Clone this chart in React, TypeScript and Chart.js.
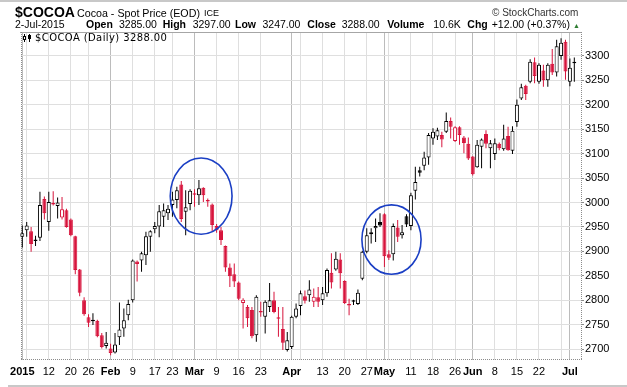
import React, { useEffect, useRef } from 'react';
import { Chart, registerables } from 'chart.js';

Chart.register(...registerables);

// ---- Categories: ICE trading days, Jan 2 – Jul 2 2015 ----
const monthNames = ['Jan', 'Feb', 'Mar', 'Apr', 'May', 'Jun', 'Jul'];
const janDays = [2, 5, 6, 7, 8, 9, 12, 13, 14, 15, 16, 20, 21, 22, 23, 26, 27, 28, 29, 30];
const febDays = [2, 3, 4, 5, 6, 9, 10, 11, 12, 13, 17, 18, 19, 20, 23, 24, 25, 26, 27];
const marDays = [2, 3, 4, 5, 6, 9, 10, 11, 12, 13, 16, 17, 18, 19, 20, 23, 24, 25, 26, 27, 30, 31];
const aprDays = [1, 2, 6, 7, 8, 9, 10, 13, 14, 15, 16, 17, 20, 21, 22, 23, 24, 27, 28, 29, 30];
const mayDays = [1, 4, 5, 6, 7, 8, 11, 12, 13, 14, 15, 18, 19, 20, 21, 22, 26, 27, 28, 29];
const junDays = [1, 2, 3, 4, 5, 8, 9, 10, 11, 12, 15, 16, 17, 18, 19, 22, 23, 24, 25, 26, 29, 30];
const julDays = [1, 2];
const dates = [janDays, febDays, marDays, aprDays, mayDays, junDays, julDays].flatMap((days, m) =>
  days.map((d) => `${monthNames[m]} ${d}`)
);

// ---- Series (OHLC) ----
const priorClose = 2925;
const opens = [
  2930, 2943, 2941, 2921, 2928, 3007, 2960, 2996, 2993, 2969, 2984, 2965, 2931, 2863, 2800, 2765, 2757, 2758, 2728, 2706,
  2701, 2693, 2724, 2742, 2769, 2800, 2879, 2881, 2892, 2930, 2945, 2951, 2971, 2978, 2995, 3005, 3037, 2981, 2997, 3018,
  3015, 3030, 3004, 2996, 2952, 2943, 2911, 2867, 2853, 2836, 2794, 2786, 2780, 2728, 2777, 2766, 2786, 2800, 2764, 2741,
  2698, 2704, 2766, 2788, 2808, 2810, 2797, 2806, 2800, 2814, 2856, 2863, 2883, 2839, 2791, 2800, 2792, 2844, 2899, 2939,
  2947, 2960, 2976, 2894, 2894, 2949, 2933, 2972, 2952, 3024, 3066, 3075, 3092, 3131, 3135, 3138, 3145, 3167, 3126, 3154,
  3133, 3120, 3094, 3072, 3114, 3140, 3111, 3099, 3120, 3109, 3136, 3106, 3165, 3213, 3239, 3247, 3287, 3247, 3270, 3250,
  3284, 3266, 3300, 3329, 3247, 3285,
];
const highs = [
  2953, 2960, 2950, 2932, 3022, 3012, 3022, 3023, 3010, 3011, 2987, 2967, 2932, 2864, 2806, 2771, 2773, 2760, 2733, 2735,
  2711, 2733, 2795, 2783, 2801, 2883, 2881, 2899, 2940, 2943, 2960, 2995, 2998, 2995, 3022, 3032, 3044, 3025, 3027, 3027,
  3046, 3031, 3008, 2998, 2956, 2950, 2912, 2875, 2875, 2838, 2804, 2790, 2786, 2810, 2797, 2800, 2835, 2817, 2786, 2786,
  2735, 2768, 2793, 2820, 2820, 2841, 2824, 2827, 2827, 2865, 2896, 2899, 2896, 2841, 2803, 2801, 2822, 2901, 2947, 2947,
  2967, 2978, 2978, 2902, 2957, 2964, 2954, 2976, 3020, 3073, 3073, 3104, 3142, 3152, 3153, 3145, 3184, 3174, 3156, 3156,
  3136, 3133, 3095, 3128, 3131, 3148, 3128, 3131, 3123, 3159, 3155, 3156, 3211, 3243, 3241, 3293, 3297, 3285, 3282, 3285,
  3314, 3333, 3336, 3333, 3295, 3297,
];
const lows = [
  2908, 2930, 2899, 2911, 2921, 2965, 2942, 2994, 2967, 2965, 2948, 2931, 2853, 2808, 2768, 2745, 2749, 2724, 2701, 2701,
  2687, 2691, 2708, 2725, 2759, 2795, 2838, 2858, 2872, 2899, 2937, 2929, 2950, 2964, 2971, 2988, 2960, 2933, 2984, 2991,
  2995, 3001, 2991, 2940, 2938, 2913, 2858, 2827, 2827, 2800, 2742, 2745, 2722, 2715, 2766, 2732, 2776, 2773, 2725, 2698,
  2695, 2700, 2763, 2769, 2793, 2797, 2786, 2786, 2790, 2807, 2824, 2860, 2824, 2792, 2769, 2790, 2790, 2841, 2896, 2916,
  2919, 2950, 2868, 2882, 2881, 2919, 2926, 2950, 2943, 3006, 3053, 3066, 3077, 3118, 3128, 3113, 3142, 3131, 3124, 3118,
  3101, 3087, 3055, 3071, 3070, 3111, 3070, 3087, 3107, 3106, 3106, 3099, 3155, 3210, 3210, 3244, 3244, 3243, 3237, 3237,
  3261, 3258, 3292, 3251, 3238, 3247,
];
const closes = [
  2937, 2953, 2915, 2924, 2995, 2978, 3001, 2999, 3000, 2986, 2950, 2933, 2862, 2815, 2771, 2754, 2760, 2726, 2704, 2713,
  2692, 2709, 2740, 2759, 2792, 2881, 2874, 2896, 2931, 2941, 2952, 2982, 2984, 2987, 3006, 3025, 2966, 2990, 3024, 3016,
  3029, 3015, 3002, 2954, 2943, 2923, 2867, 2849, 2838, 2803, 2801, 2763, 2726, 2807, 2775, 2797, 2800, 2776, 2762, 2713,
  2718, 2766, 2783, 2814, 2799, 2822, 2807, 2797, 2814, 2862, 2836, 2885, 2855, 2794, 2789, 2797, 2815, 2899, 2933, 2935,
  2952, 2953, 2890, 2887, 2952, 2930, 2939, 2955, 3015, 3042, 3061, 3092, 3138, 3145, 3148, 3129, 3167, 3155, 3154, 3138,
  3122, 3090, 3058, 3118, 3129, 3120, 3121, 3121, 3111, 3131, 3107, 3147, 3200, 3236, 3222, 3288, 3259, 3282, 3250, 3282,
  3266, 3320, 3327, 3268, 3276, 3288,
];

// ---- Axis tick labels ----
const xTickDates = [
  'Jan 2', 'Jan 5', 'Jan 12', 'Jan 20', 'Jan 26', 'Feb 2', 'Feb 9', 'Feb 17', 'Feb 23', 'Mar 2', 'Mar 9', 'Mar 16',
  'Mar 23', 'Apr 1', 'Apr 6', 'Apr 13', 'Apr 20', 'Apr 27', 'May 1', 'May 4', 'May 11', 'May 18', 'May 26', 'Jun 1',
  'Jun 8', 'Jun 15', 'Jun 22', 'Jun 29', 'Jul 1',
];
const xTickTexts = [
  '2015', '', '12', '20', '26', 'Feb', '9', '17', '23', 'Mar', '9', '16',
  '23', 'Apr', '', '13', '20', '27', 'May', '', '11', '18', '26', 'Jun',
  '8', '15', '22', '', 'Jul',
];
const xMajorDates = ['Jan 2', 'Feb 2', 'Mar 2', 'Apr 1', 'May 1', 'Jun 1', 'Jul 1'];
const yTickValues = [2700, 2750, 2800, 2850, 2900, 2950, 3000, 3050, 3100, 3150, 3200, 3250, 3300];
const yMin = 2677.5;
const yMax = 3349;

// ---- Annotations (blue ellipses, in data units) ----
const ellipseCenterX = [40.5, 83.6];
const ellipseCenterY = [3013, 2924];
const ellipseRadiusX = [7.0, 6.7];
const ellipseRadiusY = [78, 71];

const RED = '#d7143c';
const BLACK = '#000000';
const FONT = '"Liberation Sans", Arial, Helvetica, sans-serif';

const T = ({ x, base, size, bold, color, family, spacing, children }: any) => (
  <div
    style={{
      position: 'absolute',
      left: x,
      top: base - 0.846 * size,
      fontSize: size,
      lineHeight: `${size}px`,
      fontWeight: bold ? 'bold' : 'normal',
      color: color || '#000',
      fontFamily: family || FONT,
      letterSpacing: spacing || 0,
      whiteSpace: 'nowrap',
    }}
  >
    {children}
  </div>
);

export default function App() {
  const ref = useRef<HTMLCanvasElement | null>(null);

  useEffect(() => {
    if (!ref.current) return;
    const n = dates.length;
    const colors = closes.map((c, i) => (c < (i === 0 ? priorClose : closes[i - 1]) ? RED : BLACK));
    const fills = closes.map((c, i) => (c < opens[i] ? colors[i] : '#ffffff'));
    const tickIdx = xTickDates.map((d) => dates.indexOf(d));
    const labelByIdx = new Map<number, string>();
    tickIdx.forEach((ix, k) => labelByIdx.set(ix, xTickTexts[k]));
    const majorIdx = new Set(xMajorDates.map((d) => dates.indexOf(d)));

    const ellipsePlugin = {
      id: 'ellipses',
      afterDatasetsDraw(chart: any) {
        const { ctx, scales } = chart;
        const xs = scales.x;
        const ys = scales.y;
        ctx.save();
        ctx.strokeStyle = '#1b3fc4';
        ctx.lineWidth = 1.6;
        ellipseCenterX.forEach((cxv, i) => {
          const cx = xs.getPixelForValue(cxv);
          const cy = ys.getPixelForValue(ellipseCenterY[i]);
          const rx = Math.abs(xs.getPixelForValue(cxv + ellipseRadiusX[i]) - cx);
          const ry = Math.abs(ys.getPixelForValue(ellipseCenterY[i] + ellipseRadiusY[i]) - cy);
          ctx.beginPath();
          ctx.ellipse(cx, cy, rx, ry, 0, 0, Math.PI * 2);
          ctx.stroke();
        });
        ctx.restore();
      },
    };

    const framePlugin = {
      id: 'frame',
      beforeDatasetsDraw(chart: any) {
        const { ctx, chartArea: a } = chart;
        ctx.save();
        ctx.lineWidth = 1;
        ctx.strokeStyle = '#a6a6a6';
        ctx.beginPath();
        ctx.moveTo(a.left - 1, a.top + 0.5);
        ctx.lineTo(a.right, a.top + 0.5);
        ctx.stroke();
        ctx.strokeStyle = '#8c8c8c';
        ctx.setLineDash([1, 1]);
        ctx.beginPath();
        ctx.moveTo(a.left + 0.5, a.top);
        ctx.lineTo(a.left + 0.5, a.bottom);
        ctx.moveTo(a.left, a.bottom - 0.5);
        ctx.lineTo(a.right, a.bottom - 0.5);
        ctx.moveTo(a.right - 0.5, a.top);
        ctx.lineTo(a.right - 0.5, a.bottom);
        ctx.stroke();
        ctx.restore();
      },
    };

    const chart = new Chart(ref.current, {
      type: 'bar',
      data: {
        labels: dates,
        datasets: [
          {
            label: 'body',
            data: dates.map((_, i) => ({ x: i, y: [Math.min(opens[i], closes[i]), Math.max(opens[i], closes[i])] })) as any,
            backgroundColor: fills,
            borderColor: colors,
            borderWidth: 1,
            borderSkipped: false,
            barThickness: 4,
            minBarLength: 1.5,
            inflateAmount: 0,
            grouped: false,
            order: 0,
            clip: false as any,
          },
          {
            label: 'wick',
            data: dates.map((_, i) => ({ x: i, y: [lows[i], highs[i]] })) as any,
            backgroundColor: colors,
            borderWidth: 0,
            barThickness: 1,
            inflateAmount: 0,
            grouped: false,
            order: 1,
            clip: false as any,
          },
        ],
      },
      options: {
        responsive: false,
        animation: false,
        devicePixelRatio: 1,
        events: [],
        layout: { padding: { left: 21, top: 32, right: 0, bottom: 0 } },
        plugins: { legend: { display: false }, tooltip: { enabled: false } },
        scales: {
          x: {
            type: 'linear',
            min: -0.29,
            max: n + 0.74,
            offset: false,
            afterBuildTicks: (scale: any) => {
              scale.ticks = tickIdx.map((v) => ({ value: v }));
            },
            afterFit: (scale: any) => {
              scale.height = 27;
            },
            grid: {
              offset: false,
              drawTicks: false,
              color: (ctx: any) => (ctx.tick && majorIdx.has(ctx.tick.value) ? '#bcbcbc' : '#dfdfdf'),
              lineWidth: 1,
            },
            border: { display: false },
            ticks: {
              autoSkip: false,
              maxRotation: 0,
              minRotation: 0,
              padding: 5,
              color: '#000',
              font: (ctx: any) => ({
                family: FONT,
                size: 11,
                weight: ctx.tick && majorIdx.has(ctx.tick.value) ? 'bold' : 'normal',
              }),
              callback: (v: any) => labelByIdx.get(Math.round(Number(v))) ?? '',
            },
          },
          y: {
            type: 'linear',
            position: 'right',
            min: yMin,
            max: yMax,
            afterBuildTicks: (scale: any) => {
              scale.ticks = yTickValues.map((v) => ({ value: v }));
            },
            afterFit: (scale: any) => {
              scale.width = 45;
            },
            grid: { color: '#dfdfdf', tickLength: 2, tickColor: '#8a8a8a', lineWidth: 1 },
            border: { display: false },
            ticks: {
              padding: 1,
              color: '#000',
              font: { family: FONT, size: 11 },
              callback: (v: any) => String(v),
            },
          },
        },
      } as any,
      plugins: [framePlugin, ellipsePlugin],
    });
    return () => chart.destroy();
  }, []);

  return (
    <div
      style={{
        position: 'absolute',
        left: 0,
        top: 0,
        width: 627,
        height: 387,
        background: '#fff',
        overflow: 'hidden',
      }}
    >
      <div style={{ position: 'absolute', left: 0, top: 0, width: 627, height: 2, background: '#c8c8c8' }} />
      <div style={{ position: 'absolute', left: 8, top: 385, width: 619, height: 2, background: '#c8c8c8' }} />
      <canvas ref={ref} width={627} height={387} style={{ position: 'absolute', left: 0, top: 0 }} />

      <T x={15} base={17.3} size={14} bold>$COCOA</T>
      <T x={77} base={16.7} size={10.7}>Cocoa - Spot Price (EOD)</T>
      <T x={204} base={16.7} size={9}>ICE</T>
      <T x={492} base={16.7} size={10} color="#333">© StockCharts.com</T>

      <T x={15} base={28.3} size={10.5}>2-Jul-2015</T>
      <T x={86} base={28.3} size={10.5} bold>Open</T>
      <T x={119} base={28.3} size={10.5}>3285.00</T>
      <T x={162.7} base={28.3} size={10.5} bold>High</T>
      <T x={192.7} base={28.3} size={10.5}>3297.00</T>
      <T x={235} base={28.3} size={10.5} bold>Low</T>
      <T x={262.5} base={28.3} size={10.5}>3247.00</T>
      <T x={307.3} base={28.3} size={10.5} bold>Close</T>
      <T x={341.7} base={28.3} size={10.5}>3288.00</T>
      <T x={387.3} base={28.3} size={10.5} bold>Volume</T>
      <T x={433.3} base={28.3} size={10.5}>10.6K</T>
      <T x={467.3} base={28.3} size={10.5} bold>Chg</T>
      <T x={491.7} base={28.3} size={10.5}>+12.00 (+0.37%)</T>
      <T x={573} base={27.5} size={7} color="#2f7d32">▲</T>

      <div style={{ position: 'absolute', left: 24, top: 34, width: 1, height: 8, background: '#000' }} />
      <div style={{ position: 'absolute', left: 23, top: 36, width: 3, height: 4, border: '1px solid #000', boxSizing: 'border-box', background: '#fff' }} />
      <div style={{ position: 'absolute', left: 29, top: 34, width: 1, height: 8, background: '#000' }} />
      <div style={{ position: 'absolute', left: 28, top: 35, width: 3, height: 4, background: '#000' }} />
      <T x={35} base={41.7} size={10} family='"DejaVu Sans", Verdana, sans-serif' spacing={0.4}>$COCOA (Daily) 3288.00</T>
    </div>
  );
}
